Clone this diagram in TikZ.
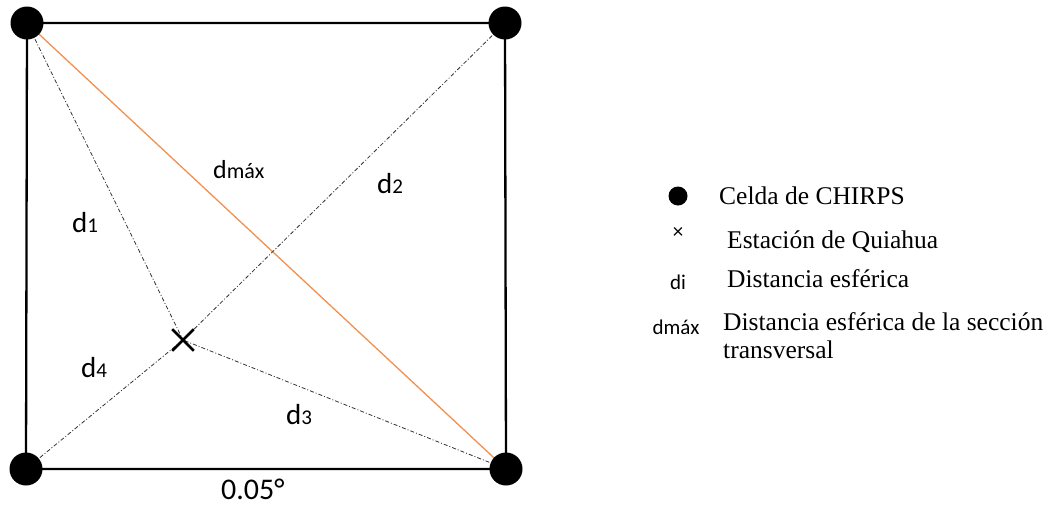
\documentclass[tikz,border=0pt]{standalone}
\usepackage{fontspec}
\setmainfont{Liberation Serif}
\setsansfont{Carlito}
\usetikzlibrary{shapes.misc,backgrounds,positioning}
\definecolor{naranja}{HTML}{ED7D31}
\tikzset{celda/.style={circle,fill=black,minimum size=33pt,inner sep=0pt}, estacion/.style={cross out,draw=black,line width=2.6pt,minimum size=19pt,inner sep=0pt}, borde/.style={line width=2.3pt,black}, dmaxline/.style={naranja!85,line width=1.3pt}, distline/.style={line width=.8pt,black!80,dash pattern=on 4pt off 2pt on 1pt off 2pt}, etiq/.style={font=\fontsize{29}{32}\sffamily,inner sep=0pt,anchor=base west}, leyenda/.style={font=\fontsize{25.5}{28}\selectfont,anchor=west,align=left,inner sep=0pt}, simb/.style={font=\fontsize{21}{24}\sffamily,inner sep=0pt}}
\newcommand{\idx}[1]{{\fontsize{21}{24}\selectfont #1}}

\begin{document}
\begin{tikzpicture}[x=1pt,y=-1pt]
\useasboundingbox (0,0) rectangle (1062,509);
% celdas de CHIRPS y estacion
\node[celda] (c1) at (27,23) {};
\node[celda] (c2) at (505,23) {};
\node[celda] (c3) at (26,469) {};
\node[celda] (c4) at (506,469) {};
\node[estacion] (st) at (183,340) {};
\begin{scope}[on background layer]
\draw[borde] (c1.center) -- (c2.center) -- (c4.center) -- (c3.center) -- cycle;
\draw[dmaxline] (c1.center) -- (c4.center);
\foreach \c in {c1,c2,c3,c4} \draw[distline] (\c.center) -- (st.center);
\end{scope}
% distancias
\node[etiq,font=\fontsize{26}{30}\sffamily] (lmax) at (213,178) {d{\fontsize{22}{26}\selectfont máx}};
\node[etiq] (l1) at (72,232) {d\idx{1}};
\node[etiq] (l2) at (377,193) {d\idx{2}};
\node[etiq] (l4) at (81,377) {d\idx{4}};
\node[etiq] (l3) at (286,424) {d\idx{3}};
\node[etiq,font=\fontsize{30}{34}\sffamily] (ang) at (221,499) {0.05°};
% leyenda
\node[celda,minimum size=19pt] (kc) at (678,196) {};
\node[simb] (kx) at (678,233) {×};
\node[simb] (kd) at (678,282) {di};
\node[simb] (km) at (676,327) {dmáx};
\node[leyenda] (tc) at (719,196) {Celda de CHIRPS};
\node[leyenda] (tx) at (727,242) {Estación de Quiahua};
\node[leyenda] (td) at (727,279) {Distancia esférica};
\node[leyenda,anchor=north west] (tm) at (723,312) {Distancia esférica de la sección\\transversal};
\end{tikzpicture}
\end{document}
